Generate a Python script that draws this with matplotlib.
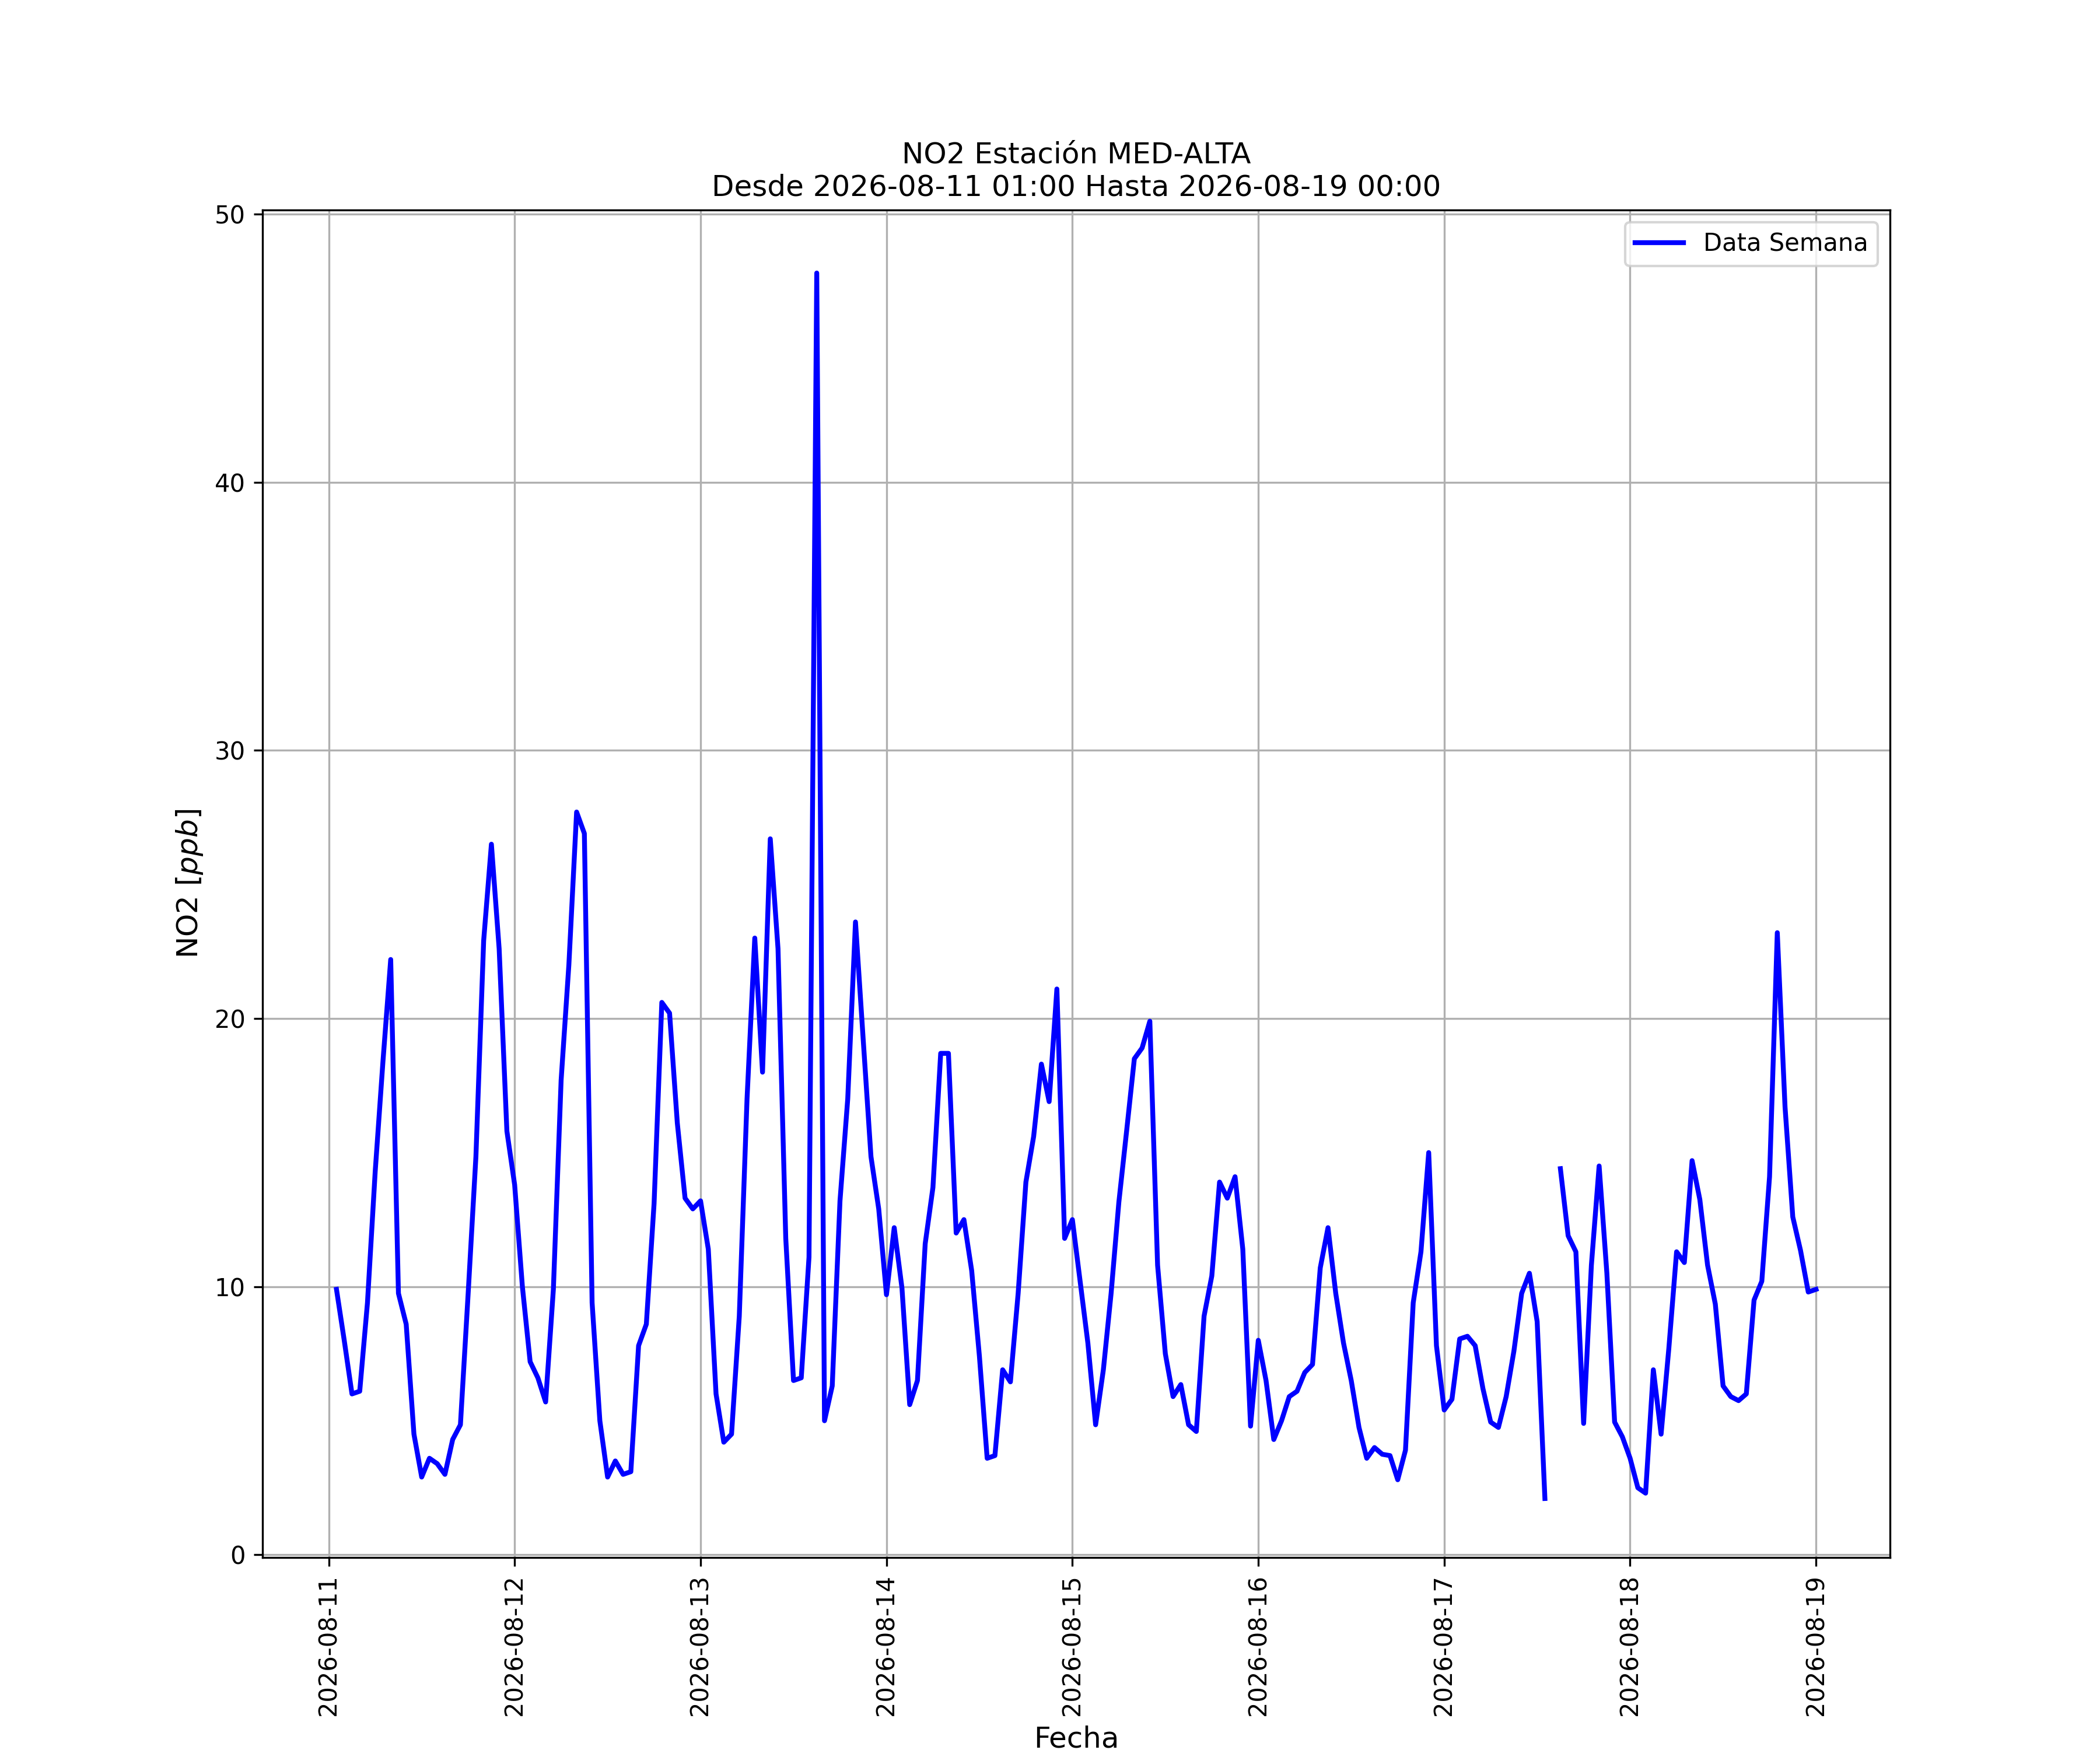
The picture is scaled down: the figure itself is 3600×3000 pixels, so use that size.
import numpy as np
import pandas as pd
import matplotlib
matplotlib.use("Agg")
import matplotlib.pyplot as plt
import matplotlib.dates as mdates

start = "2026-08-11 01:00"
end = "2026-08-19 00:00"

day11 = [9.9, 8.0, 6.0, 6.1, 9.4, 14.3, 18.4, 22.2, 9.75, 8.6, 4.5, 2.9, 3.6, 3.4, 3.0, 4.3,
         4.85, 9.75, 14.85, 22.9, 26.5, 22.6, 15.8]
day12 = [13.8, 10.0, 7.2, 6.6, 5.7, 9.9, 17.7, 22.0, 27.7, 26.9, 9.4, 5.0, 2.9, 3.5, 3.0, 3.1,
         7.8, 8.6, 13.1, 20.6, 20.2, 16.1, 13.3, 12.9]
day13 = [13.2, 11.4, 6.0, 4.2, 4.5, 8.9, 17.0, 23.0, 18.0, 26.7, 22.6, 11.8, 6.5, 6.6, 11.1, 47.8,
         5.0, 6.3, 13.2, 17.0, 23.6, 19.2, 14.85, 12.9]
day14 = [9.7, 12.2, 9.95, 5.6, 6.5, 11.6, 13.7, 18.7, 18.7, 12.0, 12.5, 10.6, 7.4, 3.6, 3.7, 6.9,
         6.45, 9.75, 13.9, 15.6, 18.3, 16.9, 21.1, 11.8]
day15 = [12.5, 10.2, 7.9, 4.85, 6.9, 9.75, 13.15, 15.8, 18.5, 18.9, 19.9, 10.8, 7.5, 5.9, 6.35, 4.85,
         4.6, 8.9, 10.4, 13.9, 13.3, 14.1, 11.4, 4.8]
day16 = [8.0, 6.5, 4.3, 5.0, 5.9, 6.1, 6.8, 7.1, 10.7, 12.2, 9.75, 7.9, 6.5, 4.75, 3.6, 4.0,
         3.75, 3.7, 2.8, 3.9, 9.4, 11.3, 15.0, 7.8]
day17 = [5.4, 5.8, 8.05, 8.15, 7.8, 6.2, 4.95, 4.75, 5.9, 7.6, 9.75, 10.5, 8.7, 2.1, np.nan, 14.4,
         11.9, 11.3, 4.9, 10.8, 14.5, 10.5, 4.95, 4.4]
day18 = [3.6, 2.5, 2.3, 6.9, 4.5, 7.7, 11.3, 10.9, 14.7, 13.25, 10.8, 9.35, 6.3, 5.9, 5.75, 6.0,
         9.5, 10.2, 14.1, 23.2, 16.7, 12.6, 11.35, 9.8]
day19 = [9.9]

values = day11 + day12 + day13 + day14 + day15 + day16 + day17 + day18 + day19
fechas = pd.date_range(start, end, freq="h")

fig, ax = plt.subplots(figsize=(12, 10), dpi=300)
ax.plot(fechas, values, color="blue", linewidth=2, label="Data Semana")
ax.set_ylim(-0.1, 50.15)
ax.set_yticks([0, 10, 20, 30, 40, 50])
ax.xaxis.set_major_locator(mdates.DayLocator())
ax.xaxis.set_major_formatter(mdates.DateFormatter("%Y-%m-%d"))
for lbl in ax.get_xticklabels():
    lbl.set_rotation(90)
ax.tick_params(labelsize=10)
ax.grid(True)
ax.set_xlabel("Fecha", fontsize=12)
ax.set_ylabel("NO2 [$ppb$]", fontsize=12)
ax.set_title("NO2 Estación MED-ALTA\nDesde 2026-08-11 01:00 Hasta 2026-08-19 00:00", fontsize=12)
ax.legend(loc="upper right", fontsize=10)
fig.savefig("out.png", dpi=300)
